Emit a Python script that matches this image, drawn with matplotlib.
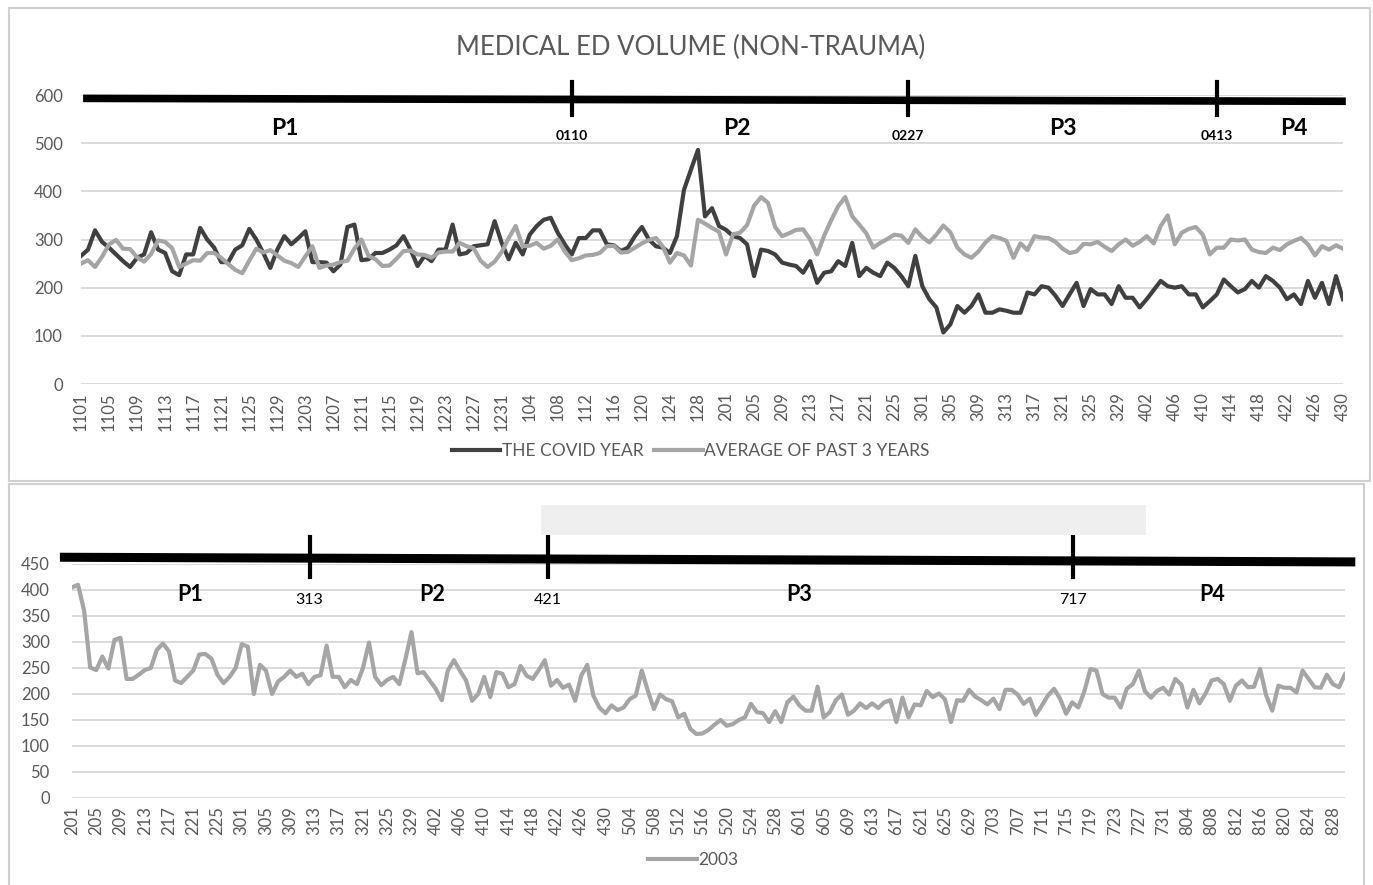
import matplotlib
matplotlib.use("Agg")
import matplotlib.pyplot as plt
import pandas as pd
from matplotlib.patches import Rectangle

plt.rcParams['font.family'] = ['Lato', 'DejaVu Sans']

# ---------------------- data ----------------------
# top chart: daily medical ED volume, 1 Nov -> 30 Apr
covid_year = [
    266, 279, 319, 295, 283, 269, 255, 243, 262, 269,
    315, 279, 272, 234, 226, 269, 269, 324, 300, 283,
    253, 253, 279, 288, 322, 300, 272, 241, 279, 307,
    290, 303, 317, 253, 253, 252, 234, 248, 326, 331,
    257, 259, 272, 272, 279, 288, 307, 279, 245, 266,
    255, 279, 279, 331, 269, 272, 286, 288, 290, 338,
    293, 259, 293, 269, 310, 328, 341, 345, 314, 290,
    269, 303, 303, 319, 319, 290, 288, 276, 283, 307,
    326, 300, 286, 283, 272, 307, 403, 445, 486,
    348, 365, 328, 320, 307, 303, 290, 224, 279, 276,
    269, 252, 248, 245, 231, 255, 210, 231, 234, 255,
    245, 293, 224, 241, 231, 224, 252, 241, 224, 203,
    266, 203, 176, 159, 107, 124, 162, 148, 162, 186,
    148, 148, 155, 152, 148, 148, 190, 186, 203, 200,
    183, 162, 186, 210, 162, 197, 186, 186, 166, 203,
    179, 179, 159, 176, 195, 214, 203, 200, 203, 186,
    186, 159, 172, 186, 217, 203, 190, 197, 214, 200,
    224, 214, 200, 176, 186, 166, 214, 179, 210, 166,
    224, 176,
]
avg_past_3 = [
    250, 257, 243, 264, 290, 299, 281, 280, 263, 254,
    270, 298, 295, 282, 243, 250, 257, 256, 272, 272,
    262, 249, 237, 230, 256, 281, 273, 278, 267, 256,
    251, 243, 265, 286, 241, 246, 248, 253, 256, 281,
    300, 266, 259, 245, 246, 260, 276, 277, 269, 268,
    262, 273, 275, 275, 293, 286, 282, 256, 243, 254,
    274, 303, 328, 286, 287, 293, 281, 287, 300, 275,
    257, 261, 267, 268, 272, 286, 287, 273, 274, 283,
    292, 299, 303, 285, 252, 272, 267, 246, 341,
    333, 324, 316, 269, 311, 314, 330, 370, 388, 376,
    326, 307, 313, 320, 321, 300, 269, 308, 340, 369,
    388, 348, 331, 313, 283, 293, 301, 310, 308, 293,
    321, 305, 294, 310, 329, 315, 283, 269, 262, 275,
    294, 307, 303, 297, 262, 292, 278, 307, 304, 303,
    295, 281, 272, 275, 291, 290, 295, 285, 276, 290,
    300, 287, 295, 307, 292, 328, 350, 290, 314, 322,
    326, 310, 269, 283, 283, 300, 298, 300, 279, 274,
    272, 283, 278, 290, 297, 303, 290, 267, 286, 279,
    288, 281,
]
# bottom chart: 2003, 1 Feb -> 30 Aug
vol_2003 = [
    405, 410, 360, 251, 246, 272, 249, 304, 308, 229,
    229, 237, 246, 250, 285, 297, 282, 226, 221, 233,
    245, 276, 277, 268, 237, 221, 233, 250, 296, 291,
    200, 256, 245, 200, 224, 233, 245, 233, 239, 219,
    233, 236, 293, 233, 233, 213, 227, 219, 250, 299,
    233, 217, 227, 233, 219, 267, 319, 240, 242, 226,
    210, 188, 245, 265, 245, 226, 187, 200, 233, 194,
    242, 239, 213, 219, 254, 235, 229, 246, 265, 216,
    227, 212, 218, 187, 235, 256, 197, 174, 163, 178,
    169, 174, 190, 197, 245, 206, 171, 199, 190, 186,
    155, 162, 133, 123,
    124, 131, 141, 150, 139, 142, 150, 155, 181, 165,
    163, 146, 167, 146, 184, 195, 178, 168, 168, 214,
    155, 165, 188, 199, 160, 168, 182, 173, 182, 173,
    184, 188, 146, 193, 155, 180, 178, 206, 194, 201,
    190, 146, 188, 187, 208, 195, 188, 180, 191, 171,
    208, 208, 199, 181, 191, 160, 178, 197, 210, 191,
    162, 184, 174, 205, 248, 245, 200, 193, 193, 174,
    210, 219, 245, 205, 193, 206, 212, 199, 229, 218,
    174, 208, 182, 201, 226, 229, 219, 187, 216, 226,
    213, 214, 248, 197, 168, 216, 212, 212, 203, 245,
    229, 213, 212, 237, 219, 213, 238,
]

top_days = pd.date_range('2018-11-01', '2019-04-30')   # no Feb 29 in the chart
bot_days = pd.date_range('2003-02-01', '2003-08-30')
top_labels = [f"{d.month}{d.day:02d}" for d in top_days]
bot_labels = [f"{d.month}{d.day:02d}" for d in bot_days]

top_cuts = ['110', '227', '413']
top_cut_text = ['0110', '0227', '0413']
bot_cuts = ['313', '421', '717']
phases = ['P1', 'P2', 'P3', 'P4']

# ---------------------- figure ----------------------
W, H = 1373, 885
fig = plt.figure(figsize=(W / 100, H / 100), dpi=100)
TXT = '#595959'
GRID = '#D9D9D9'
DARK = '#404040'
LIGHT = '#A5A5A5'

# panel borders
fig.add_artist(Rectangle((9 / W, 1 - 481 / H), 1361 / W, 473 / H, transform=fig.transFigure,
                         fill=False, ec='#D0D0D0', lw=1.5))
fig.add_artist(Rectangle((9 / W, -0.01), 1355 / W, 1 - 484 / H + 0.01, transform=fig.transFigure,
                         fill=False, ec='#D0D0D0', lw=1.5))


def style(ax, n, labels, ymax, ystep, ypad):
    ax.set_xlim(0, n - 1)
    ax.set_ylim(0, ymax)
    ax.set_yticks(range(0, ymax + 1, ystep))
    ax.set_xticks(range(0, n, 4))
    ax.set_xticklabels(labels[::4], rotation=90)
    ax.grid(axis='y', color=GRID, lw=1.3)
    ax.set_axisbelow(True)
    for s in ax.spines.values():
        s.set_visible(False)
    ax.tick_params(length=0, colors=TXT, labelsize=12)
    ax.tick_params(axis='y', pad=ypad)
    ax.tick_params(axis='x', pad=6)


# ---------------------- top chart ----------------------
ax1 = fig.add_axes([81 / W, 1 - 384 / H, 1262 / W, 289 / H])
x1 = range(len(covid_year))
ax1.plot(x1, covid_year, color=DARK, lw=3, label='THE COVID YEAR')
ax1.plot(x1, avg_past_3, color=LIGHT, lw=3, label='AVERAGE OF PAST 3 YEARS')
style(ax1, len(covid_year), top_labels, 600, 100, 13)

fig.text(0.503, 1 - 47 / H, 'MEDICAL ED VOLUME (NON-TRAUMA)', ha='center', va='center',
         fontsize=18.5, color=TXT)

# period timeline
ax1.plot([0.3, 180.4], [593, 587], color='black', lw=5.5, clip_on=False, solid_capstyle='butt')
cut_pos = [top_labels.index(c) + off for c, off in zip(top_cuts, [0, -0.1, -1])]
for p, t in zip(cut_pos, top_cut_text):
    ax1.plot([p, p], [558, 626], color='black', lw=3, clip_on=False)
    ax1.text(p, 514, t, ha='center', va='center', fontsize=10, fontweight='bold')
for px, ph in zip([29, 93.5, 140, 173], phases):
    ax1.text(px, 531, ph, ha='center', va='center', fontsize=16.5, fontweight='bold')

fig.legend(*ax1.get_legend_handles_labels(), loc='center', bbox_to_anchor=(0.503, 1 - 451 / H),
           ncol=2, frameon=False, handlelength=2.8, handletextpad=0.1, columnspacing=0.6,
           fontsize=12.5, labelcolor=TXT)

# ---------------------- bottom chart ----------------------
ax2 = fig.add_axes([72 / W, 1 - 798 / H, 1273 / W, 234 / H])
x2 = range(len(vol_2003))
ax2.plot(x2, vol_2003, color=LIGHT, lw=3, label='2003')
style(ax2, len(vol_2003), bot_labels, 450, 50, 16)

fig.add_artist(Rectangle((541 / W, 1 - 535 / H), 605 / W, 30 / H, transform=fig.transFigure,
                         color='#EFEFEF', lw=0))

ax2.plot([-2, 211.7], [463, 454], color='black', lw=6.5, clip_on=False, solid_capstyle='butt')
bcut_pos = [bot_labels.index(c) + off for c, off in zip(bot_cuts, [-0.8, -0.5, -0.8])]
for p, t in zip(bcut_pos, bot_cuts):
    ax2.plot([p, p], [425, 502], color='black', lw=3, clip_on=False)
    ax2.text(p, 381, t, ha='center', va='center', fontsize=11.5)
for px, ph in zip([19.5, 59.5, 120, 188], phases):
    ax2.text(px, 392, ph, ha='center', va='center', fontsize=15.5, fontweight='bold')

fig.legend(*ax2.get_legend_handles_labels(), loc='center', bbox_to_anchor=(0.505, 1 - 860 / H),
           frameon=False, handlelength=2.8, handletextpad=0.1, fontsize=12.5, labelcolor=TXT)

fig.savefig('out.png', dpi=100)
